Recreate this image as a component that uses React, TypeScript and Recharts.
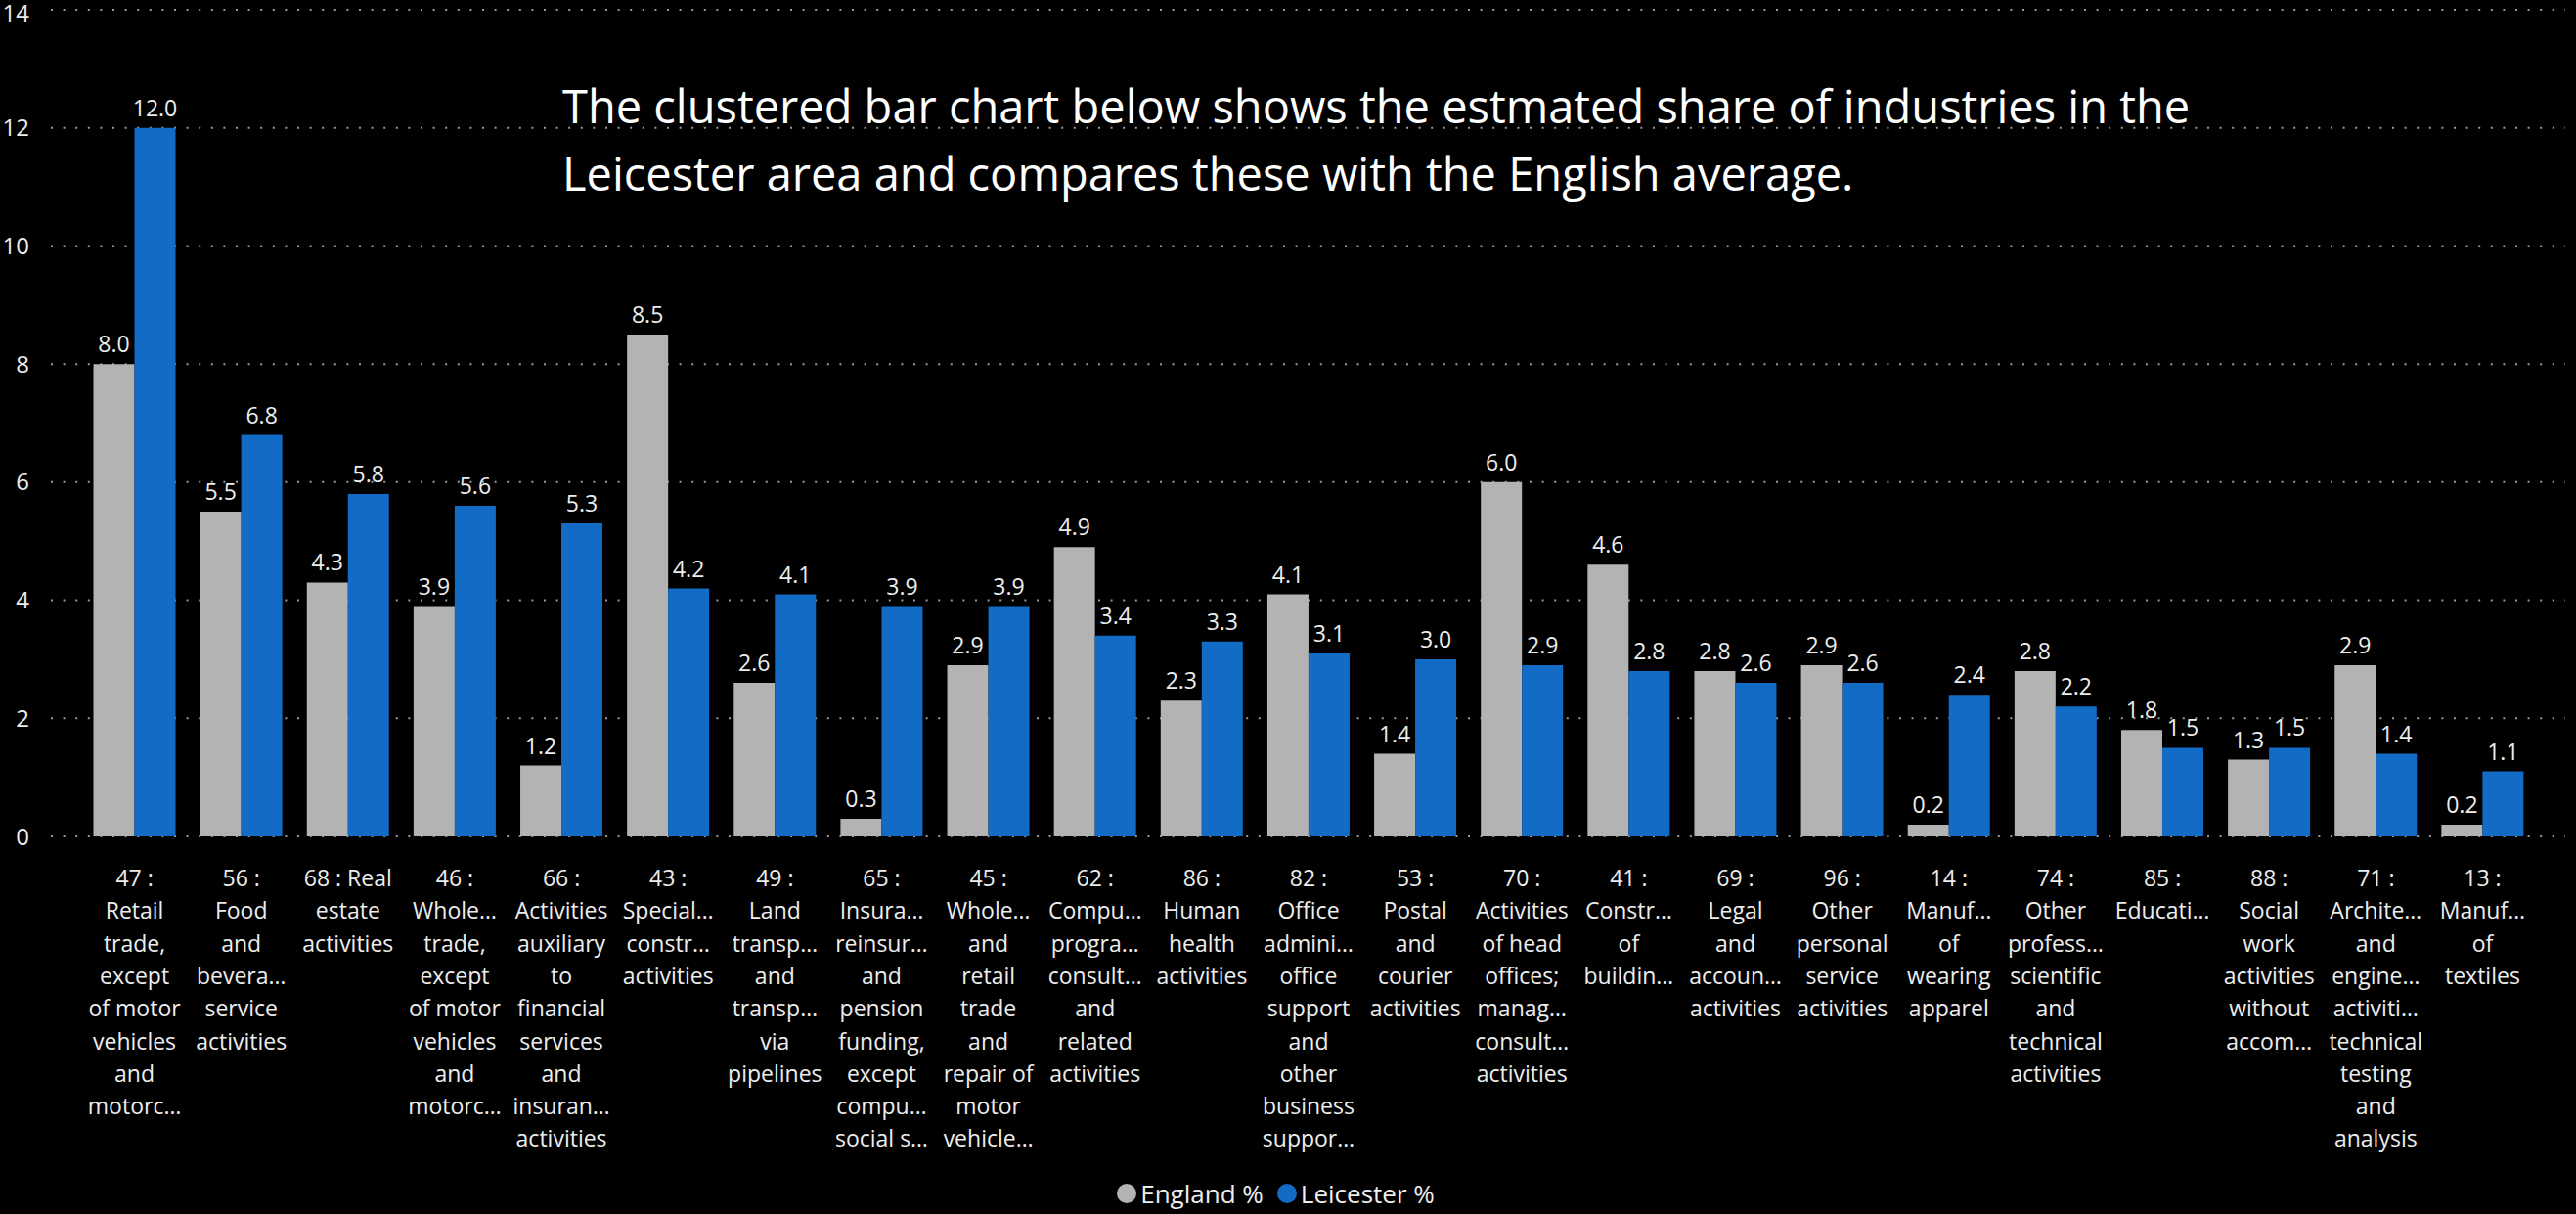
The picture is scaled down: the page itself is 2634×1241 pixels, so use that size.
import React from 'react';
import { BarChart, Bar, XAxis, YAxis, CartesianGrid, Legend, LabelList } from 'recharts';

// category names as they wrap under each group (truncated like the source visual)
const categories = [
  '47 :\nRetail\ntrade,\nexcept\nof motor\nvehicles\nand\nmotorc…',
  '56 :\nFood\nand\nbevera…\nservice\nactivities',
  '68 : Real\nestate\nactivities',
  '46 :\nWhole…\ntrade,\nexcept\nof motor\nvehicles\nand\nmotorc…',
  '66 :\nActivities\nauxiliary\nto\nfinancial\nservices\nand\ninsuran…\nactivities',
  '43 :\nSpecial…\nconstr…\nactivities',
  '49 :\nLand\ntransp…\nand\ntransp…\nvia\npipelines',
  '65 :\nInsura…\nreinsur…\nand\npension\nfunding,\nexcept\ncompu…\nsocial s…',
  '45 :\nWhole…\nand\nretail\ntrade\nand\nrepair of\nmotor\nvehicle…',
  '62 :\nCompu…\nprogra…\nconsult…\nand\nrelated\nactivities',
  '86 :\nHuman\nhealth\nactivities',
  '82 :\nOffice\nadmini…\noffice\nsupport\nand\nother\nbusiness\nsuppor…',
  '53 :\nPostal\nand\ncourier\nactivities',
  '70 :\nActivities\nof head\noffices;\nmanag…\nconsult…\nactivities',
  '41 :\nConstr…\nof\nbuildin…',
  '69 :\nLegal\nand\naccoun…\nactivities',
  '96 :\nOther\npersonal\nservice\nactivities',
  '14 :\nManuf…\nof\nwearing\napparel',
  '74 :\nOther\nprofess…\nscientific\nand\ntechnical\nactivities',
  '85 :\nEducati…',
  '88 :\nSocial\nwork\nactivities\nwithout\naccom…',
  '71 :\nArchite…\nand\nengine…\nactiviti…\ntechnical\ntesting\nand\nanalysis',
  '13 :\nManuf…\nof\ntextiles',
];

const englandPct = [8.0, 5.5, 4.3, 3.9, 1.2, 8.5, 2.6, 0.3, 2.9, 4.9, 2.3, 4.1, 1.4, 6.0, 4.6, 2.8, 2.9, 0.2, 2.8, 1.8, 1.3, 2.9, 0.2];
const leicesterPct = [12.0, 6.8, 5.8, 5.6, 5.3, 4.2, 4.1, 3.9, 3.9, 3.4, 3.3, 3.1, 3.0, 2.9, 2.8, 2.6, 2.6, 2.4, 2.2, 1.5, 1.5, 1.4, 1.1];

const yTicks = [0, 2, 4, 6, 8, 10, 12, 14];

const FONT = '"Open Sans", "Noto Sans", sans-serif';
const TEXT = '#EDEDED';
const GREY = '#B3B3B3';
const BLUE = '#126BC4';

const data = categories.map((name, i) => ({
  name,
  england: englandPct[i],
  leicester: leicesterPct[i],
}));

function CategoryTick({ x, y, payload }: any) {
  const lines = String(payload.value).split('\n');
  return (
    <text x={x} y={y} textAnchor="middle" fill={TEXT} fontSize={23} fontFamily={FONT}>
      {lines.map((line, i) => (
        <tspan key={i} x={x} dy={i === 0 ? 51 : 33.3}>
          {line}
        </tspan>
      ))}
    </text>
  );
}

function LegendContent({ payload }: any) {
  return (
    <div
      style={{
        height: 40,
        display: 'flex',
        justifyContent: 'center',
        alignItems: 'center',
        fontFamily: FONT,
        fontSize: 26,
        color: TEXT,
      }}
    >
      {(payload || []).map((item: any) => (
        <div key={item.value} style={{ display: 'flex', alignItems: 'center', marginRight: 14 }}>
          <span
            style={{
              width: 20,
              height: 20,
              borderRadius: 10,
              background: item.color,
              display: 'inline-block',
              marginRight: 4,
            }}
          />
          <span>{item.value}</span>
        </div>
      ))}
    </div>
  );
}

export default function App() {
  return (
    <div
      style={{
        position: 'absolute',
        left: 0,
        top: 0,
        width: 2634,
        height: 1241,
        background: '#000',
        overflow: 'hidden',
      }}
    >
      <BarChart
        width={2634}
        height={1241}
        data={data}
        margin={{ top: 10, right: 11, left: 0, bottom: 1 }}
        barCategoryGap={12.5}
        barGap={0}
      >
        <CartesianGrid
          vertical={false}
          stroke="#9A9A9A"
          strokeWidth={2}
          strokeDasharray="2 10.6"
        />
        <XAxis
          dataKey="name"
          interval={0}
          height={345}
          axisLine={false}
          tickLine={false}
          tickSize={0}
          tickMargin={0}
          padding={{ left: 31, right: 30 }}
          tick={<CategoryTick />}
        />
        <YAxis
          width={52}
          domain={[0, 14]}
          ticks={yTicks}
          axisLine={false}
          tickLine={false}
          tickSize={6}
          tickMargin={16}
          tick={{ fill: TEXT, fontSize: 24, fontFamily: FONT }}
        />
        <Legend verticalAlign="bottom" content={<LegendContent />} />
        <Bar dataKey="england" name="England %" fill={GREY} isAnimationActive={false}>
          <LabelList
            dataKey="england"
            position="top"
            offset={12}
            fill={TEXT}
            fontSize={23}
            fontFamily={FONT}
            formatter={(v: any) => Number(v).toFixed(1)}
          />
        </Bar>
        <Bar dataKey="leicester" name="Leicester %" fill={BLUE} isAnimationActive={false}>
          <LabelList
            dataKey="leicester"
            position="top"
            offset={12}
            fill={TEXT}
            fontSize={23}
            fontFamily={FONT}
            formatter={(v: any) => Number(v).toFixed(1)}
          />
        </Bar>
      </BarChart>
      <div
        style={{
          position: 'absolute',
          left: 575,
          top: 74,
          fontFamily: FONT,
          fontWeight: 400,
          fontSize: 47,
          lineHeight: '69px',
          color: '#FFFFFF',
          whiteSpace: 'nowrap',
        }}
      >
        The clustered bar chart below shows the estmated share of industries in the
        <br />
        Leicester area and compares these with the English average.
      </div>
    </div>
  );
}
